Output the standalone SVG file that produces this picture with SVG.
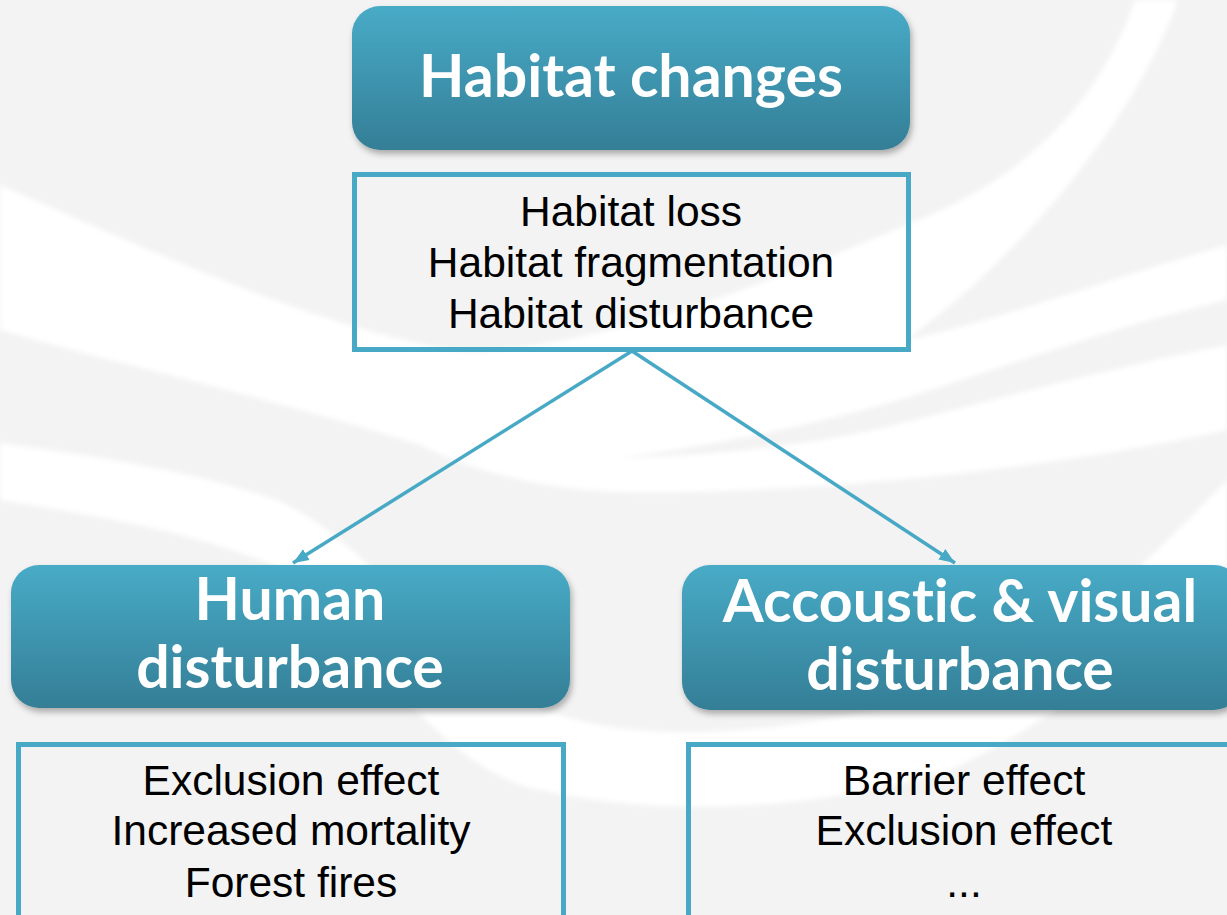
<svg xmlns="http://www.w3.org/2000/svg" width="1227" height="915" viewBox="0 0 1227 915">
  <defs>
    <linearGradient id="hdrGrad" x1="0" y1="0" x2="0" y2="1">
      <stop offset="0" stop-color="#48abc7"/>
      <stop offset="1" stop-color="#347e96"/>
    </linearGradient>
    <filter id="shadow" x="-5%" y="-10%" width="112%" height="130%">
      <feDropShadow dx="2" dy="4" stdDeviation="3" flood-color="#000" flood-opacity="0.3"/>
    </filter>
    <filter id="soft" x="-5%" y="-5%" width="110%" height="110%">
      <feGaussianBlur stdDeviation="2.5"/>
    </filter>
    <marker id="arrow" viewBox="0 0 10 10" refX="10" refY="5" markerWidth="4.5" markerHeight="4.5" orient="auto" markerUnits="strokeWidth">
      <path d="M0,1 L10,5 L0,9 Z" fill="#47a9c5"/>
    </marker>
  </defs>
  <style>
    .hdr rect { fill: url(#hdrGrad); filter: url(#shadow); }
    .hdr text { font-family: Lato, "Open Sans", sans-serif; font-weight: 700; font-size: 59px; fill: #ffffff; text-anchor: middle; font-variant-ligatures: none; }
    .lst rect { fill: none; stroke: #47a9c5; stroke-width: 5; }
    .lst text { font-family: "Liberation Sans", Arial, sans-serif; font-size: 42.5px; fill: #000000; text-anchor: middle; }
    .edge { stroke: #47a9c5; stroke-width: 3.5; fill: none; marker-end: url(#arrow); }
    .swoosh { fill: #ffffff; }
    .gap { fill: #f3f3f3; }
  </style>

  <!-- backdrop with pale swirl bands -->
  <g id="backdrop">
    <rect x="0" y="0" width="1227" height="915" fill="#f3f3f3"/>
    <g filter="url(#soft)">
      <!-- broad upper band -->
      <path class="swoosh" d="M0,185 C150,250 330,335 470,352 C620,345 800,270 930,215 C1030,172 1100,100 1135,0 L1178,0 C1140,110 1030,250 906,340 C1000,320 1120,275 1227,245 L1227,430 C1050,470 800,495 620,492 C540,490 470,470 420,445 C280,400 140,370 0,330 Z"/>
      <!-- lower band -->
      <path class="swoosh" d="M0,443 C90,455 190,470 277,500 C380,545 450,680 560,715 C650,745 800,735 950,690 C1060,650 1150,560 1227,480 L1227,570 C1150,640 1060,720 950,770 C800,815 650,815 540,790 C430,770 340,600 277,567 C190,530 90,515 0,500 Z"/>
      <!-- thin gap inside the upper band -->
      <path class="gap" d="M620,458 C750,440 850,415 906,398 C1010,365 1120,325 1227,300 L1227,345 C1110,368 1000,398 906,422 C840,440 740,455 620,458 Z"/>
    </g>
  </g>

  <!-- connectors -->
  <g id="connectors">
    <path class="edge" d="M632,351 L293,563"/>
    <path class="edge" d="M632,351 L955,563"/>
  </g>

  <g id="habitat-changes" class="hdr">
    <rect x="352" y="6" width="558" height="144" rx="28"/>
    <text x="631" y="97">Habitat changes</text>
  </g>

  <g id="habitat-effects" class="lst">
    <rect x="354.5" y="174.5" width="554" height="175"/>
    <text x="631" y="226">Habitat loss</text>
    <text x="631" y="277">Habitat fragmentation</text>
    <text x="631" y="328">Habitat disturbance</text>
  </g>

  <g id="human-disturbance" class="hdr">
    <rect x="11" y="565" width="559" height="143" rx="28"/>
    <text x="290" y="620">Human</text>
    <text x="290" y="688">disturbance</text>
  </g>

  <g id="human-effects" class="lst">
    <rect x="18.5" y="744.5" width="545" height="200"/>
    <text x="291" y="795">Exclusion effect</text>
    <text x="291" y="845">Increased mortality</text>
    <text x="291" y="897">Forest fires</text>
  </g>

  <g id="acoustic-visual-disturbance" class="hdr">
    <rect x="682" y="565" width="560" height="145" rx="28"/>
    <text x="960" y="622">Accoustic &amp; visual</text>
    <text x="960" y="690">disturbance</text>
  </g>

  <g id="acoustic-visual-effects" class="lst">
    <rect x="688.5" y="744.5" width="560" height="200"/>
    <text x="964" y="795">Barrier effect</text>
    <text x="964" y="845">Exclusion effect</text>
    <text x="964" y="897">...</text>
  </g>
</svg>
